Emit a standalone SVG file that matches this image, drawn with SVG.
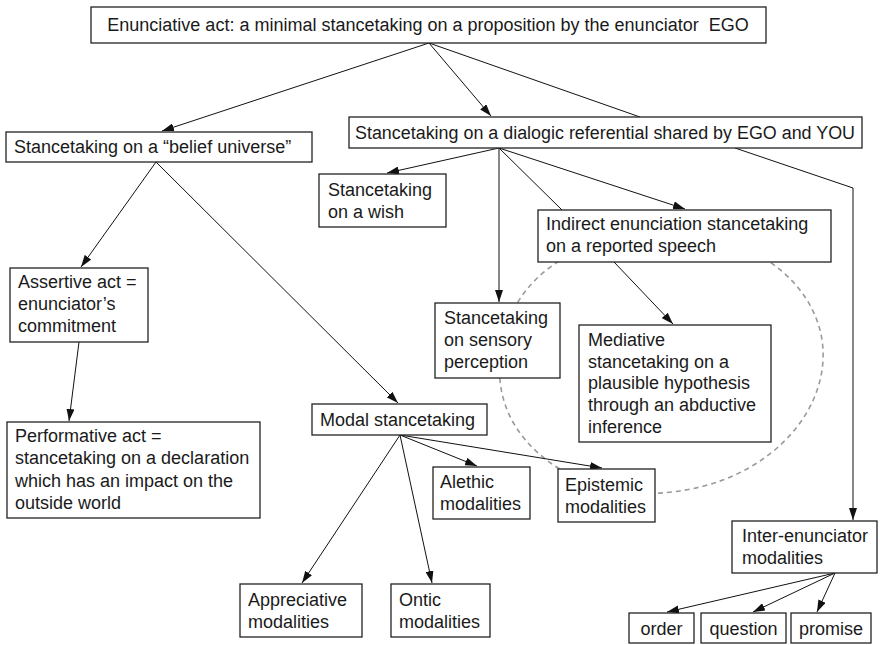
<svg xmlns="http://www.w3.org/2000/svg" width="880" height="645" viewBox="0 0 880 645">
<style>
.box{fill:#fff;stroke:#222;stroke-width:1.3}
.t{font-family:"Liberation Sans",Arial,sans-serif;font-size:18px;fill:#1a1a1a}
.c{fill:none;stroke:#111;stroke-width:1}
.dash{fill:none;stroke:#9a9a9a;stroke-width:1.6;stroke-dasharray:5 4}
</style>
<defs>
<marker id="ah" viewBox="0 0 12 8" refX="12" refY="4" markerWidth="12" markerHeight="8" markerUnits="userSpaceOnUse" orient="auto">
<path d="M0,0 L12,4 L0,8 z" fill="#111"/>
</marker>
</defs>
<rect width="880" height="645" fill="#fff"/>
<path id="oval" class="dash" d="M500,380 C495,330 520,280 570,255 C620,230 720,230 770,262 C810,290 828,330 822,370 C815,420 770,470 700,487 C670,494 640,496 610,490 C560,478 505,440 500,380 Z"/>
<g id="connectors">
<path class="c" marker-end="url(#ah)" d="M429,43 L162,131"/>
<path class="c" marker-end="url(#ah)" d="M429,43 L491,116"/>
<path class="c" d="M429,43 L640,117"/>
<path class="c" marker-end="url(#ah)" d="M499,148 L387,173"/>
<path class="c" marker-end="url(#ah)" d="M499,148 L499,302"/>
<path class="c" d="M499,148 L562,210"/>
<path class="c" marker-end="url(#ah)" d="M499,148 L685,209"/>
<path class="c" marker-end="url(#ah)" d="M735,148 L853,188 L853,520"/>
<path class="c" marker-end="url(#ah)" d="M614,262 L673,324"/>
<path class="c" marker-end="url(#ah)" d="M156,162 L81,267"/>
<path class="c" marker-end="url(#ah)" d="M156,162 L398,403"/>
<path class="c" marker-end="url(#ah)" d="M79,342 L69,421"/>
<path class="c" marker-end="url(#ah)" d="M400,435 L302,583"/>
<path class="c" marker-end="url(#ah)" d="M400,435 L432,583"/>
<path class="c" marker-end="url(#ah)" d="M400,435 L477,466"/>
<path class="c" marker-end="url(#ah)" d="M400,435 L602,468"/>
<path class="c" marker-end="url(#ah)" d="M835,573 L667,612"/>
<path class="c" marker-end="url(#ah)" d="M835,573 L753,612"/>
<path class="c" marker-end="url(#ah)" d="M835,573 L817,612"/>
</g>
<g id="n-top"><rect class="box" x="91" y="7" width="675" height="36"/><text class="t" x="428" y="31" text-anchor="middle" xml:space="preserve" style="white-space:pre">Enunciative act: a minimal stancetaking on a proposition by the enunciator  EGO</text></g>
<g id="n-belief"><rect class="box" x="6" y="132" width="306" height="30"/><text class="t" x="14" y="153">Stancetaking on a “belief universe”</text></g>
<g id="n-dialogic"><rect class="box" x="349" y="117" width="513" height="31"/><text class="t" x="355" y="139" textLength="500" lengthAdjust="spacingAndGlyphs">Stancetaking on a dialogic referential shared by EGO and YOU</text></g>
<g id="n-wish"><rect class="box" x="319" y="174" width="127" height="53"/><text class="t" x="328" y="196">Stancetaking</text><text class="t" x="328" y="218">on a wish</text></g>
<g id="n-indirect"><rect class="box" x="538" y="210" width="293" height="52"/><text class="t" x="546" y="230">Indirect enunciation stancetaking</text><text class="t" x="546" y="252">on a reported speech</text></g>
<g id="n-sensory"><rect class="box" x="435" y="303" width="125" height="75"/><text class="t" x="444" y="324">Stancetaking</text><text class="t" x="444" y="346">on sensory</text><text class="t" x="444" y="368">perception</text></g>
<g id="n-mediative"><rect class="box" x="579" y="325" width="192" height="117"/><text class="t" x="588" y="346">Mediative</text><text class="t" x="588" y="368">stancetaking on a</text><text class="t" x="588" y="389">plausible hypothesis</text><text class="t" x="588" y="411">through an abductive</text><text class="t" x="588" y="433">inference</text></g>
<g id="n-assertive"><rect class="box" x="10" y="268" width="138" height="74"/><text class="t" x="18" y="288">Assertive act =</text><text class="t" x="18" y="310">enunciator’s</text><text class="t" x="18" y="332">commitment</text></g>
<g id="n-performative"><rect class="box" x="7" y="422" width="253" height="96"/><text class="t" x="15" y="442">Performative act =</text><text class="t" x="15" y="464">stancetaking on a declaration</text><text class="t" x="15" y="487">which has an impact on the</text><text class="t" x="15" y="509">outside world</text></g>
<g id="n-modal"><rect class="box" x="312" y="404" width="175" height="31"/><text class="t" x="320" y="426">Modal stancetaking</text></g>
<g id="n-alethic"><rect class="box" x="433" y="467" width="97" height="52"/><text class="t" x="440" y="488">Alethic</text><text class="t" x="440" y="510">modalities</text></g>
<g id="n-epistemic"><rect class="box" x="558" y="469" width="97" height="53"/><text class="t" x="565" y="491">Epistemic</text><text class="t" x="565" y="513">modalities</text></g>
<g id="n-appreciative"><rect class="box" x="240" y="584" width="122" height="53"/><text class="t" x="248" y="606">Appreciative</text><text class="t" x="248" y="628">modalities</text></g>
<g id="n-ontic"><rect class="box" x="391" y="584" width="99" height="53"/><text class="t" x="399" y="606">Ontic</text><text class="t" x="399" y="628">modalities</text></g>
<g id="n-inter"><rect class="box" x="732" y="521" width="145" height="52"/><text class="t" x="742" y="542">Inter-enunciator</text><text class="t" x="742" y="564">modalities</text></g>
<g id="n-order"><rect class="box" x="629" y="613" width="65" height="30"/><text class="t" x="661.5" y="635" text-anchor="middle">order</text></g>
<g id="n-question"><rect class="box" x="701" y="613" width="85" height="30"/><text class="t" x="743.5" y="635" text-anchor="middle">question</text></g>
<g id="n-promise"><rect class="box" x="791" y="613" width="80" height="30"/><text class="t" x="831" y="635" text-anchor="middle">promise</text></g>
</svg>
